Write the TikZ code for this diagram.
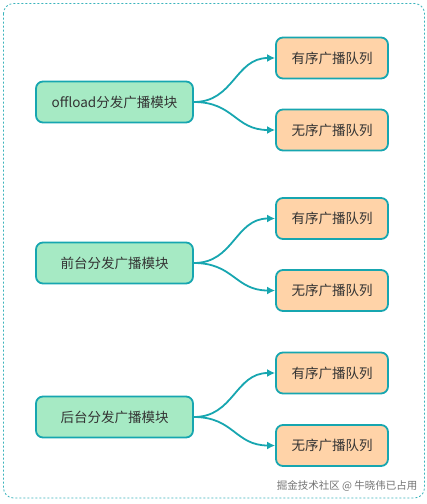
\documentclass[tikz,border=0pt]{standalone}
\usepackage{fontspec}
\setmainfont{Noto Sans CJK SC}
\usetikzlibrary{arrows.meta,calc}
\definecolor{edgeteal}{HTML}{17A6B0}
\definecolor{greenfill}{HTML}{A6EAC4}
\definecolor{orangefill}{HTML}{FFD3A8}
\definecolor{txt}{HTML}{333333}
\tikzset{
  srcbox/.style={draw=edgeteal, line width=1.8pt, fill=greenfill, rounded corners=7pt,
    minimum width=157pt, minimum height=41pt, inner sep=0pt, text=txt, font=\fontsize{13.5pt}{16pt}\selectfont},
  qbox/.style={draw=edgeteal, line width=1.8pt, fill=orangefill, rounded corners=7pt,
    minimum width=112pt, minimum height=41pt, inner sep=0pt, text=txt, font=\fontsize{13.5pt}{16pt}\selectfont},
  link/.style={draw=edgeteal, line width=1.8pt, -{Latex[length=8pt,width=8pt]}},
}
\begin{document}
\begin{tikzpicture}[x=1pt,y=-1pt]
\useasboundingbox (0,0) rectangle (427,504);
\draw[edgeteal!85, line width=0.8pt, dash pattern=on 2pt off 2pt, rounded corners=10pt] (3.5,3.5) rectangle (424.5,498);
% group 1
\node[srcbox] (s1) at (114.5,102) {offload分发广播模块};
\node[qbox] (a1) at (332,58) {有序广播队列};
\node[qbox] (b1) at (332,130) {无序广播队列};
% group 2
\node[srcbox] (s2) at (114.5,263) {前台分发广播模块};
\node[qbox] (a2) at (332,218.5) {有序广播队列};
\node[qbox] (b2) at (332,290.5) {无序广播队列};
% group 3
\node[srcbox] (s3) at (114.5,417) {后台分发广播模块};
\node[qbox] (a3) at (332,373) {有序广播队列};
\node[qbox] (b3) at (332,445.5) {无序广播队列};
\foreach \s/\t in {s1/a1,s1/b1,s2/a2,s2/b2,s3/a3,s3/b3}{
  \draw[link] (\s.east) .. controls ($(\s.east)+(40,0)$) and ($(\t.west)+(-40,0)$) .. (\t.west);
}
\node[text=black!55, font=\fontsize{10.5pt}{12pt}\selectfont, anchor=east] (wm) at (421,486) {掘金技术社区 @ 牛晓伟已占用};
\end{tikzpicture}
\end{document}
